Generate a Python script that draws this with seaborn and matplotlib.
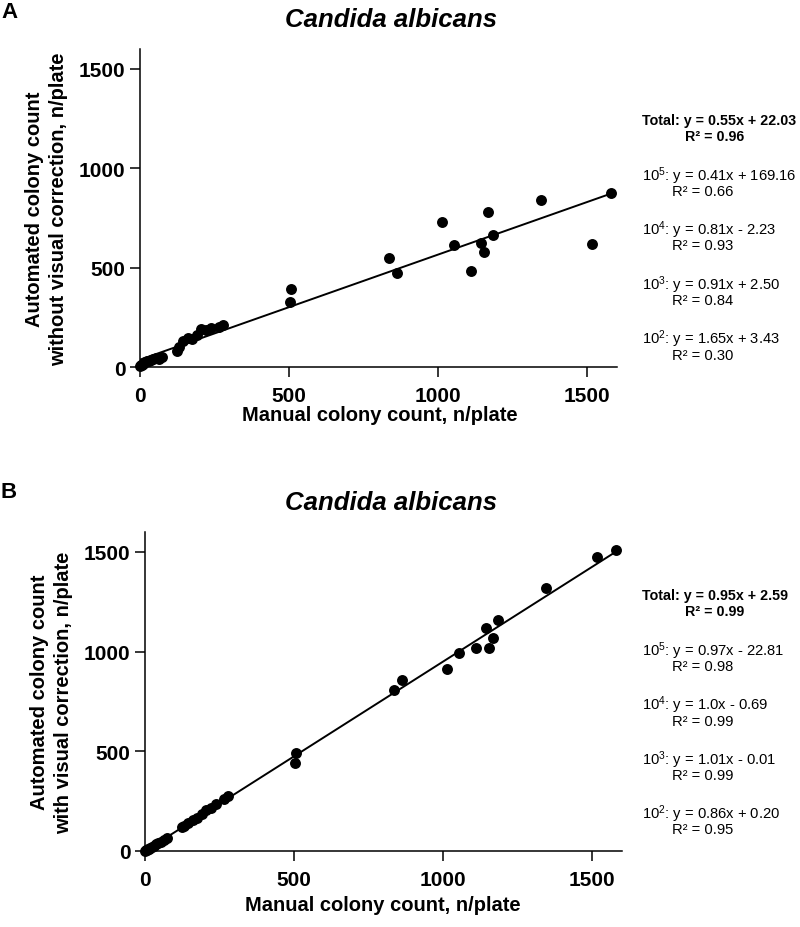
import matplotlib
matplotlib.use("Agg")
import matplotlib.pyplot as plt
import pandas as pd
import seaborn as sns

# manual counts (shared by both panels)
manual = [1579, 1516, 1346, 1185, 1166, 1143, 1155, 1111, 1053, 1014, 863, 835,
          505, 504, 277, 265, 238, 222, 205, 190, 175, 160, 145, 132, 125,
          75, 63, 55, 45, 38, 30, 24, 18, 14, 10, 6, 3, 0]
# automated count without visual correction (panel A)
auto_raw = [876, 617, 841, 662, 781, 625, 578, 484, 613, 731, 473, 548,
            390, 325, 213, 203, 196, 184, 189, 159, 142, 146, 129, 101, 79,
            48, 42, 44, 40, 36, 30, 32, 25, 22, 17, 12, 8, 5]
# automated count with visual correction (panel B)
auto_corr = [1510, 1473, 1319, 1157, 1070, 1120, 1016, 1018, 993, 912, 858, 810,
             492, 443, 274, 260, 235, 218, 205, 185, 168, 156, 139, 126, 120,
             66, 57, 47, 40, 33, 26, 21, 16, 12, 9, 5, 3, 0]

ticks = [0, 500, 1000, 1500]
dilutions = ["10$^5$", "10$^4$", "10$^3$", "10$^2$"]
total_a = ("Total: y = 0.55x + 22.03", "R² = 0.96")
eq_a = ["y = 0.41x + 169.16", "y = 0.81x - 2.23", "y = 0.91x + 2.50", "y = 1.65x + 3.43"]
r2_a = ["R² = 0.66", "R² = 0.93", "R² = 0.84", "R² = 0.30"]
total_b = ("Total: y = 0.95x + 2.59", "R² = 0.99")
eq_b = ["y = 0.97x - 22.81", "y = 1.0x - 0.69", "y = 1.01x - 0.01", "y = 0.86x + 0.20"]
r2_b = ["R² = 0.98", "R² = 0.99", "R² = 0.99", "R² = 0.95"]

sns.set_style("ticks")
plt.rcParams["font.family"] = ["Liberation Sans", "DejaVu Sans"]
plt.rcParams["mathtext.fontset"] = "custom"
plt.rcParams["mathtext.rm"] = "Liberation Sans"
plt.rcParams["mathtext.it"] = "Liberation Sans:italic"
plt.rcParams["mathtext.bf"] = "Liberation Sans:bold"
for key in ["text.color", "axes.labelcolor", "xtick.color", "ytick.color", "axes.edgecolor"]:
    plt.rcParams[key] = "black"

W, H = 800, 928
fig = plt.figure(figsize=(W / 100, H / 100), dpi=100)


def px(x, y):
    return x / W, 1 - y / H


def panel(rect, y_values, ylabel):
    ax = fig.add_axes(rect)
    df = pd.DataFrame({"manual": manual, "auto": y_values})
    sns.regplot(data=df, x="manual", y="auto", ax=ax, ci=None, color="black",
                scatter_kws={"s": 62, "alpha": 1, "linewidths": 0, "clip_on": False, "zorder": 3},
                line_kws={"linewidth": 1.4, "color": "black"})
    ax.set_xlim(0, 1600)
    ax.set_ylim(0, 1600)
    ax.set_xticks(ticks)
    ax.set_yticks(ticks)
    sns.despine(ax=ax)
    for s in ["left", "bottom"]:
        ax.spines[s].set_linewidth(1.1)
    ax.tick_params(length=7.5, width=1.1, labelsize=15)
    ax.tick_params(axis="x", pad=6)
    ax.tick_params(axis="y", pad=3)
    for lab in ax.get_xticklabels() + ax.get_yticklabels():
        lab.set_fontweight("bold")
    ax.set_xlabel("")
    ax.set_ylabel(ylabel, fontsize=14.5, fontweight="bold", linespacing=1.3, labelpad=8)
    return ax


ax_a = panel([140 / W, 1 - 368 / H, 477 / W, 318 / H], auto_raw,
             "Automated colony count\nwithout visual correction, n/plate")
ax_b = panel([145 / W, 1 - 852 / H, 477 / W, 319 / H], auto_corr,
             "Automated colony count\nwith visual correction, n/plate")

# panel letters, titles, x labels
fig.text(*px(1, 13), "A", fontsize=16, fontweight="bold", va="center")
fig.text(*px(1, 493), "B", fontsize=16, fontweight="bold", va="center")
fig.text(*px(391, 20), "Candida albicans", fontsize=18.5, fontweight="bold",
         style="italic", ha="center", va="center")
fig.text(*px(391, 503), "Candida albicans", fontsize=18.5, fontweight="bold",
         style="italic", ha="center", va="center")
fig.text(*px(380, 416), "Manual colony count, n/plate", fontsize=14.5,
         fontweight="bold", ha="center", va="center")
fig.text(*px(383, 906), "Manual colony count, n/plate", fontsize=14.5,
         fontweight="bold", ha="center", va="center")


def annotate(y0, total, eqs, r2s):
    fig.text(*px(642, y0), total[0], fontsize=10.3, fontweight="bold", va="center")
    fig.text(*px(685, y0 + 16), total[1], fontsize=10.3, fontweight="bold", va="center")
    for i, (d, e, r) in enumerate(zip(dilutions, eqs, r2s)):
        yy = y0 + 55 + i * 54.5
        fig.text(*px(642, yy), f"{d}: {e}", fontsize=10.6, va="center")
        fig.text(*px(672, yy + 16), r, fontsize=10.6, va="center")


annotate(121, total_a, eq_a, r2_a)
annotate(596, total_b, eq_b, r2_b)

fig.savefig("out.png", dpi=100)
